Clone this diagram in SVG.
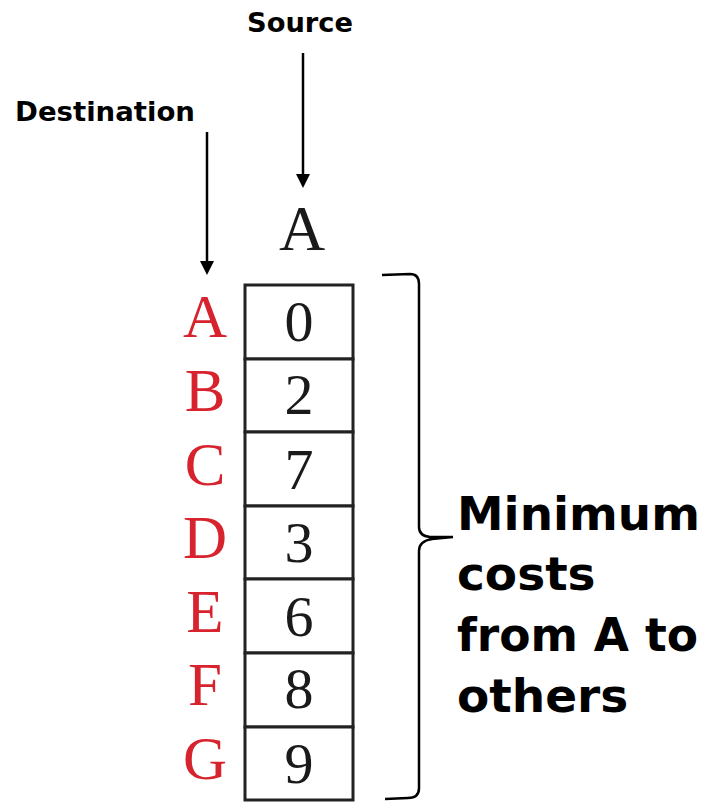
<svg xmlns="http://www.w3.org/2000/svg" width="717" height="802" viewBox="0 0 717 802">
<defs>
<style>
.lbl{font-family:"DejaVu Sans","Liberation Sans",sans-serif;font-weight:bold;fill:#000}
.tm{font-family:"Liberation Serif","Times New Roman",serif;text-anchor:middle}
.red{fill:#d7232e;font-size:61px}
.num{fill:#1a1a1a;font-size:58px}
.cell{fill:#fff;stroke:#222;stroke-width:3}
.conn{stroke:#000;stroke-width:2.5;fill:none}
</style>
</defs>
<rect width="717" height="802" fill="#fff"/>
<g id="labels">
<text class="lbl" x="300" y="32" text-anchor="middle" font-size="27" textLength="106" lengthAdjust="spacingAndGlyphs">Source</text>
<text class="lbl" x="105" y="121" text-anchor="middle" font-size="26" textLength="180" lengthAdjust="spacingAndGlyphs">Destination</text>
<text class="tm" x="302" y="250" font-size="64" fill="#1a1a1a">A</text>
</g>
<g id="connectors">
<line class="conn" x1="303" y1="53" x2="303" y2="176"/>
<path d="M296,174 L310,174 L303,188 Z" fill="#000"/>
<line class="conn" x1="207" y1="132" x2="207" y2="263"/>
<path d="M200,261 L214,261 L207,275 Z" fill="#000"/>
</g>
<g id="table">
<g id="row-A"><rect class="cell" x="245" y="285" width="108" height="74"/><text class="tm red" x="205" y="337">A</text><text class="tm num" x="299" y="341">0</text></g>
<g id="row-B"><rect class="cell" x="245" y="359" width="108" height="73"/><text class="tm red" x="205" y="411">B</text><text class="tm num" x="299" y="414">2</text></g>
<g id="row-C"><rect class="cell" x="245" y="432" width="108" height="74"/><text class="tm red" x="205" y="485">C</text><text class="tm num" x="299" y="489">7</text></g>
<g id="row-D"><rect class="cell" x="245" y="506" width="108" height="73"/><text class="tm red" x="205" y="558">D</text><text class="tm num" x="299" y="562">3</text></g>
<g id="row-E"><rect class="cell" x="245" y="579" width="108" height="74"/><text class="tm red" x="205" y="632">E</text><text class="tm num" x="299" y="636">6</text></g>
<g id="row-F"><rect class="cell" x="245" y="653" width="108" height="74"/><text class="tm red" x="205" y="705">F</text><text class="tm num" x="299" y="708">8</text></g>
<g id="row-G"><rect class="cell" x="245" y="727" width="108" height="73"/><text class="tm red" x="205" y="779">G</text><text class="tm num" x="299" y="783">9</text></g>
</g>
<g id="brace">
<path class="conn" stroke-width="2" d="M382,275 L410,274 Q419,274 419,284 L419,527 Q419,536 430,537 L453,537 L432,539 Q419,541 419,551 L419,788 Q419,798 408,798 L385,799"/>
</g>
<g id="note">
<text class="lbl" font-size="47">
<tspan x="457" y="530" textLength="243" lengthAdjust="spacingAndGlyphs">Minimum</tspan>
<tspan x="457" y="590">costs</tspan>
<tspan x="457" y="651" textLength="241" lengthAdjust="spacingAndGlyphs">from A to</tspan>
<tspan x="457" y="712">others</tspan>
</text>
</g>
</svg>
